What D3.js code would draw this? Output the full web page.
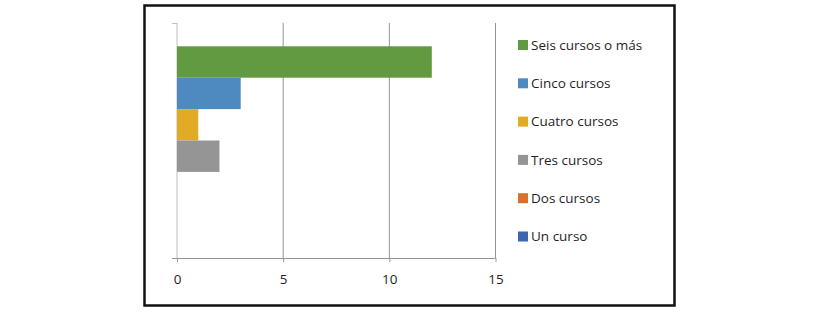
<!DOCTYPE html>
<html>
<head>
<meta charset="utf-8">
<script src="https://cdn.jsdelivr.net/npm/d3@7"></script>
<style>
  body { margin: 0; background: #fff; }
  svg text { font-family: "Open Sans", "Liberation Sans", sans-serif; fill: #1f1f1f; }
</style>
</head>
<body>
<svg id="chart"></svg>
<script>
// series, top to bottom
const seriesNames = ["Seis cursos o más", "Cinco cursos", "Cuatro cursos", "Tres cursos", "Dos cursos", "Un curso"];
const seriesValues = [12, 3, 1, 2, 0, 0];
const seriesColors = ["#629a41", "#4e8abf", "#e2ab26", "#959595", "#d9712c", "#3d66b0"];
const xTicks = [0, 5, 10, 15];

const width = 829, height = 314;
const svg = d3.select("#chart").attr("width", width).attr("height", height);

// outer frame
svg.append("rect")
    .attr("x", 144.5).attr("y", 5.5)
    .attr("width", 530).attr("height", 300)
    .style("fill", "#fff")
    .style("stroke", "#111")
    .style("stroke-width", "2.5px");

const plot = { left: 177, right: 495.5, top: 23, bottom: 258 };

const x = d3.scaleLinear().domain([0, 15]).range([plot.left, plot.right]);

// one category band holding 6 series bars
const band = d3.scaleBand().domain(seriesNames)
    .range([plot.top + 23.3, plot.bottom - 23.3]);

// vertical gridlines
svg.selectAll(".grid")
    .data(xTicks.slice(1))
    .enter()
    .append("line")
    .attr("x1", d => x(d)).attr("x2", d => x(d))
    .attr("y1", plot.top).attr("y2", plot.bottom)
    .style("stroke", "#949494")
    .style("stroke-width", "1px");

// left axis line + small top tick
svg.append("line")
    .attr("x1", x(0)).attr("x2", x(0))
    .attr("y1", plot.top).attr("y2", plot.bottom)
    .style("stroke", "#bfbfbf");
svg.append("line")
    .attr("x1", x(0) - 5).attr("x2", x(0))
    .attr("y1", plot.top + 0.5).attr("y2", plot.top + 0.5)
    .style("stroke", "#bfbfbf");

// bars
svg.selectAll(".bar")
    .data(seriesNames)
    .enter()
    .append("rect")
    .attr("class", "bar")
    .attr("x", x(0))
    .attr("y", d => band(d))
    .attr("width", (d, i) => x(seriesValues[i]) - x(0))
    .attr("height", band.bandwidth())
    .style("fill", (d, i) => seriesColors[i]);

// bottom axis
const xAxis = d3.axisBottom(x).tickValues(xTicks).tickSize(4).tickPadding(12);
const gx = svg.append("g")
    .attr("transform", `translate(0,${plot.bottom})`)
    .call(xAxis);
gx.select(".domain").remove();
gx.append("line")
    .attr("x1", x(0) - 5).attr("x2", plot.right)
    .attr("y1", 0.5).attr("y2", 0.5)
    .style("stroke", "#949494");
gx.selectAll(".tick line").style("stroke", "#949494");
gx.selectAll(".tick text")
    .style("font-size", "13.5px")
    .style("fill", "#1f1f1f")
    .style("font-family", "\"Open Sans\", \"Liberation Sans\", sans-serif");

// legend
const legend = svg.selectAll(".legend")
    .data(seriesNames)
    .enter()
    .append("g")
    .attr("class", "legend")
    .attr("transform", (d, i) => `translate(518,${45 + i * 38.3})`);

legend.append("rect")
    .attr("x", 0).attr("y", -5)
    .attr("width", 10).attr("height", 10)
    .style("fill", (d, i) => seriesColors[i]);

legend.append("text")
    .attr("x", 13).attr("dy", ".35em")
    .style("font-size", "13.5px")
    .text(d => d);
</script>
</body>
</html>
